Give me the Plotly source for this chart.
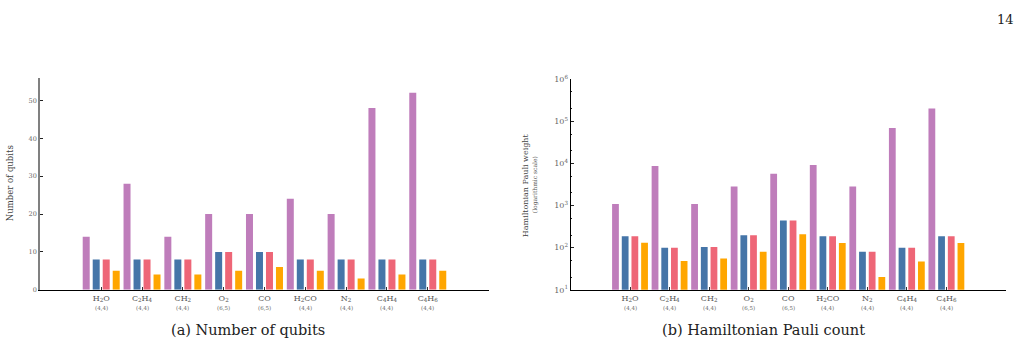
import plotly.graph_objects as go

molecules = ["H<sub>2</sub>O", "C<sub>2</sub>H<sub>4</sub>", "CH<sub>2</sub>", "O<sub>2</sub>", "CO",
             "H<sub>2</sub>CO", "N<sub>2</sub>", "C<sub>4</sub>H<sub>4</sub>", "C<sub>4</sub>H<sub>6</sub>"]
active_spaces = ["(4,4)", "(4,4)", "(4,4)", "(6,5)", "(6,5)", "(4,4)", "(4,4)", "(4,4)", "(4,4)"]

series_names = ["Series 1", "Series 2", "Series 3", "Series 4"]
colors = ["#bf7dbb", "#4575a8", "#ee6677", "#ffa600"]

qubits_s1 = [14, 28, 14, 20, 20, 24, 20, 48, 52]
qubits_s2 = [8, 8, 8, 10, 10, 8, 8, 8, 8]
qubits_s3 = [8, 8, 8, 10, 10, 8, 8, 8, 8]
qubits_s4 = [5, 4, 4, 5, 6, 5, 3, 4, 5]

pauli_s1 = [1090, 8700, 1090, 2840, 5690, 9180, 2840, 69600, 202000]
pauli_s2 = [188, 99, 104, 198, 440, 188, 80, 99, 188]
pauli_s3 = [188, 100, 104, 198, 440, 188, 80, 99, 188]
pauli_s4 = [131, 48, 55, 80, 208, 129, 20, 47, 129]

log_tick_vals = [10, 100, 1000, 10000, 100000, 1000000]
log_tick_text = ["10<sup>1</sup>", "10<sup>2</sup>", "10<sup>3</sup>", "10<sup>4</sup>", "10<sup>5</sup>", "10<sup>6</sup>"]

FONT = "DejaVu Serif"
idx = list(range(len(molecules)))

fig = go.Figure()
for name, col, vals in zip(series_names, colors, [qubits_s1, qubits_s2, qubits_s3, qubits_s4]):
    fig.add_trace(go.Bar(x=idx, y=vals, name=name, marker=dict(color=col, line=dict(width=0)),
                         xaxis="x", yaxis="y", showlegend=False))
for name, col, vals in zip(series_names, colors, [pauli_s1, pauli_s2, pauli_s3, pauli_s4]):
    fig.add_trace(go.Bar(x=idx, y=vals, name=name, marker=dict(color=col, line=dict(width=0)),
                         xaxis="x2", yaxis="y2", showlegend=False))

xaxis_common = dict(
    tickmode="array", tickvals=idx, ticktext=molecules, range=[-1.5, 9.5],
    ticks="inside", ticklen=3, tickcolor="#333", showgrid=False, zeroline=False,
    showline=True, linecolor="black", linewidth=1.3,
    tickfont=dict(family=FONT, size=8, color="#555"),
)

fig.update_layout(
    width=1020, height=350,
    margin=dict(l=0, r=0, t=0, b=0),
    paper_bgcolor="white", plot_bgcolor="white",
    barmode="group", bargap=0.02, bargroupgap=0.3,
    font=dict(family=FONT),
    xaxis=dict(domain=[0.0392, 0.4794], anchor="y", **xaxis_common),
    yaxis=dict(domain=[0.1629, 0.7886], anchor="x", range=[0, 56],
               tickvals=[0, 10, 20, 30, 40, 50], ticks="inside", ticklen=3, tickcolor="#222",
               showgrid=False, zeroline=False, showline=True, linecolor="#808080", linewidth=1.6,
               tickfont=dict(family=FONT, size=6.5, color="#666")),
    xaxis2=dict(domain=[0.5595, 0.986], anchor="y2", **xaxis_common),
    yaxis2=dict(domain=[0.1629, 0.7837], anchor="x2", type="log", range=[1, 6],
                tickmode="array", tickvals=log_tick_vals, ticktext=log_tick_text,
                ticks="inside", ticklen=3, tickcolor="#222",
                minor=dict(ticks="inside", ticklen=1.5, tickcolor="#222", showgrid=False),
                showgrid=False, zeroline=False, showline=True, linecolor="black", linewidth=1.3,
                tickfont=dict(family=FONT, size=8, color="#666")),
)

annotations = []
for xref in ["x", "x2"]:
    for i, a in zip(idx, active_spaces):
        annotations.append(dict(x=i, y=(350 - 312) / 350, xref=xref, yref="paper", text=a,
                                showarrow=False, font=dict(family=FONT, size=5.5, color="#666"),
                                xanchor="center", yanchor="middle"))

annotations += [
    dict(x=10 / 1020, y=(350 - 183) / 350, xref="paper", yref="paper", text="Number of qubits",
         textangle=-90, showarrow=False, font=dict(family=FONT, size=8.5, color="#444"),
         xanchor="center", yanchor="middle"),
    dict(x=525 / 1020, y=(350 - 185) / 350, xref="paper", yref="paper", text="Hamiltonian Pauli weight",
         textangle=-90, showarrow=False, font=dict(family=FONT, size=8, color="#444"),
         xanchor="center", yanchor="middle"),
    dict(x=535 / 1020, y=(350 - 185) / 350, xref="paper", yref="paper", text="(logarithmic scale)",
         textangle=-90, showarrow=False, font=dict(family=FONT, size=6, color="#555"),
         xanchor="center", yanchor="middle"),
    dict(x=248 / 1020, y=(350 - 334) / 350, xref="paper", yref="paper", text="(a) Number of qubits",
         showarrow=False, font=dict(family=FONT, size=14.5, color="#222"),
         xanchor="center", yanchor="middle"),
    dict(x=763 / 1020, y=(350 - 334) / 350, xref="paper", yref="paper", text="(b) Hamiltonian Pauli count",
         showarrow=False, font=dict(family=FONT, size=14.5, color="#222"),
         xanchor="center", yanchor="middle"),
    dict(x=1005 / 1020, y=(350 - 14) / 350, xref="paper", yref="paper", text="14",
         showarrow=False, font=dict(family=FONT, size=13, color="#222"),
         xanchor="center", yanchor="middle"),
]
fig.update_layout(annotations=annotations)

fig.write_html("out.html")
